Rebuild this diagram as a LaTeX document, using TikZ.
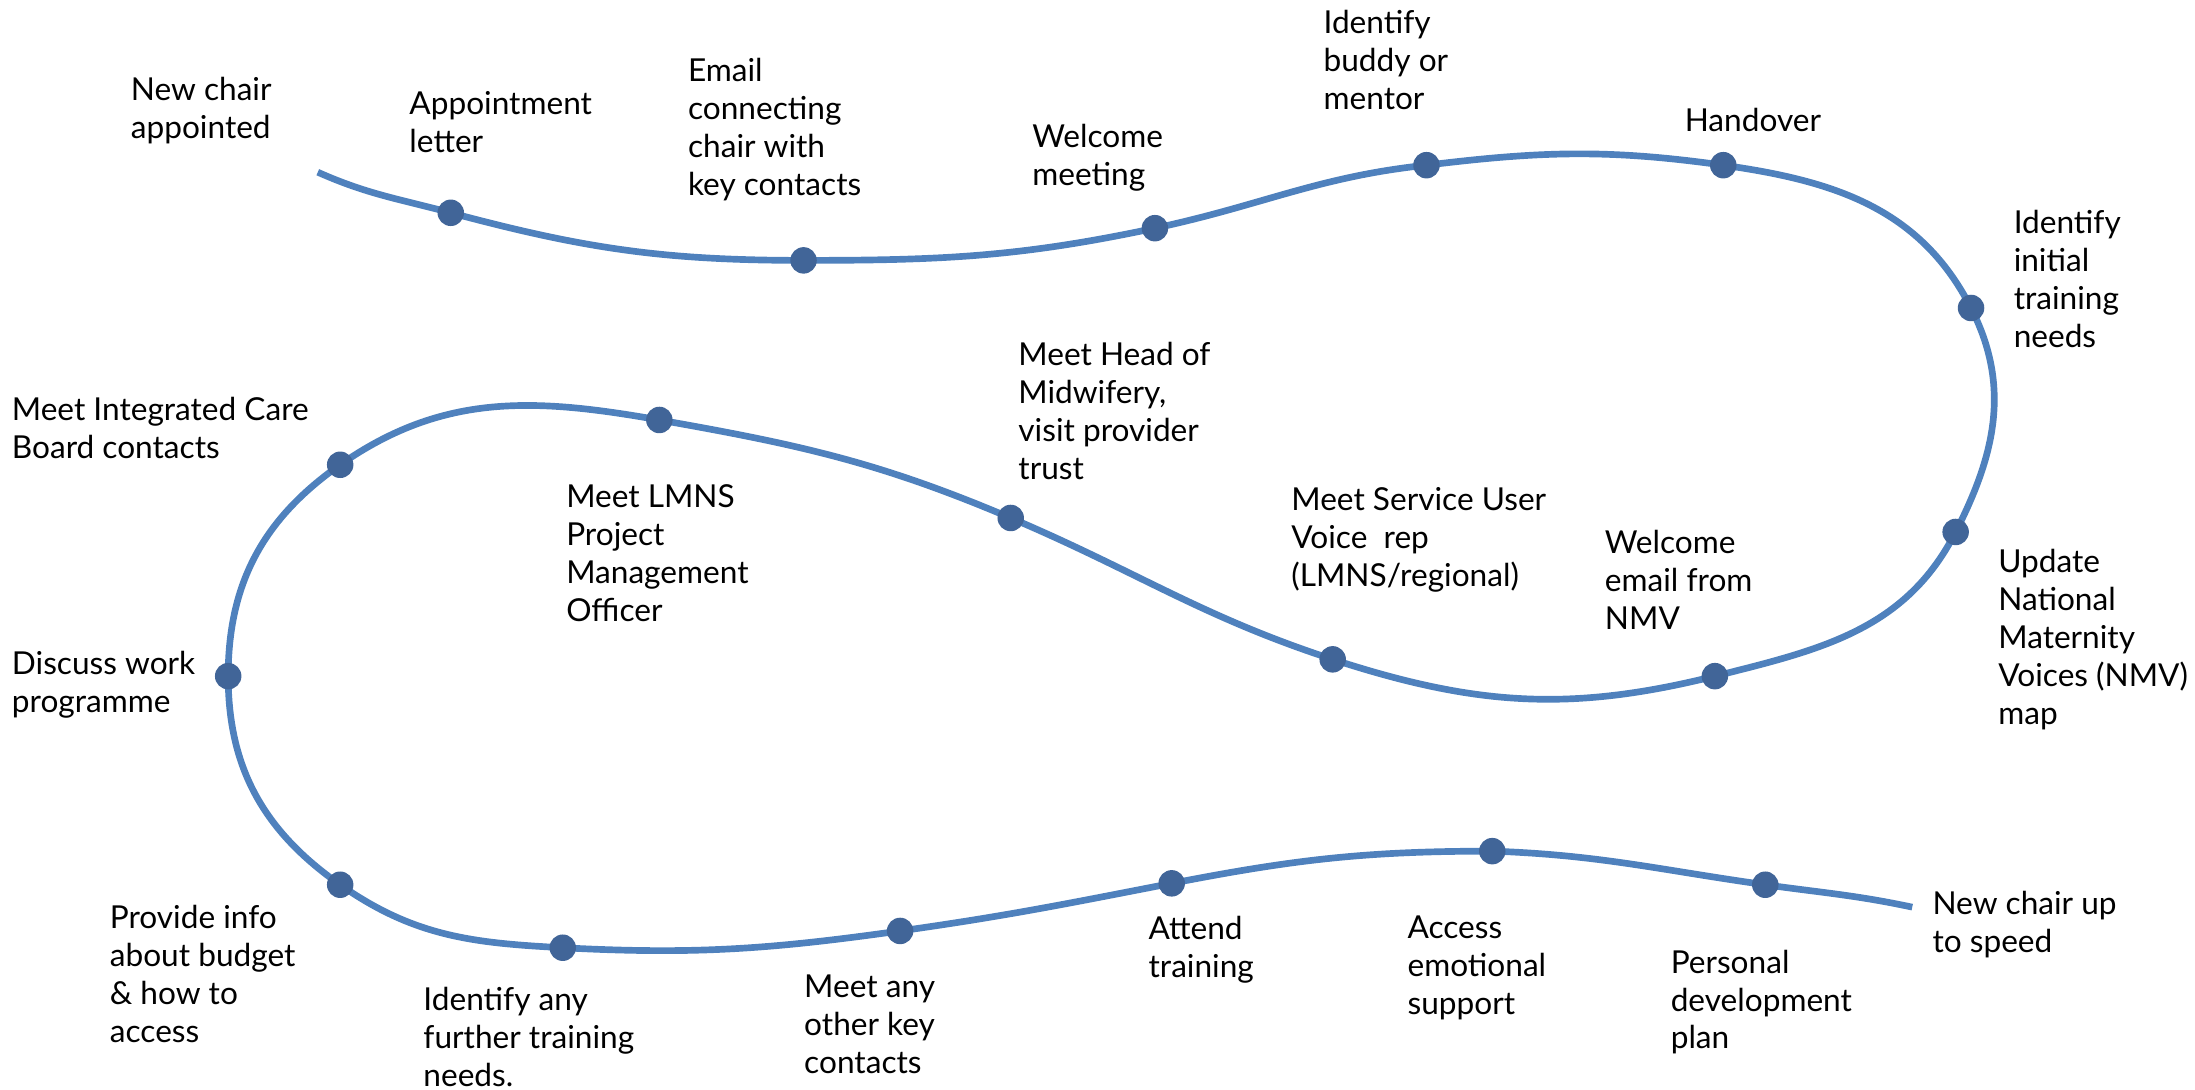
\documentclass[tikz,border=0pt]{standalone}
\usepackage{fontspec}
\setmainfont{Lato}
\usetikzlibrary{backgrounds}
\definecolor{trailclr}{RGB}{79,129,189}
\definecolor{dotclr}{RGB}{65,101,152}
\definecolor{txtclr}{RGB}{0,0,0}
\tikzset{
  mstone/.style={circle,fill=dotclr,minimum size=0.265cm,inner sep=0pt},
  trail/.style={draw=trailclr,line width=1.9pt},
  lbl/.style={anchor=north west,inner sep=0pt,align=left,
    font=\fontsize{9}{10.8}\selectfont,text=txtclr},
}
\begin{document}
\begin{tikzpicture}[x=0.014cm,y=-0.014cm]
  \useasboundingbox (0,0) rectangle (1568,778);

  % milestones along the route
  \foreach \n/\x/\y in {d1/322/152,d2/574/186,d3/825/163,d4/1019/118,
      d5/1231/118,d6/1408/220,d7/1397/380,d8/1225/483,d9/952/471,
      d10/722/370,d11/471/300,d12/243/332,d13/163/483,d14/243/632,
      d15/402/677,d16/643/665,d17/837/631,d18/1066/608,d19/1261/632}
    \node[mstone] (\n) at (\x,\y) {};
  \coordinate (start)  at (227,123);
  \coordinate (finish) at (1366,648);

  % the route itself, piece by piece
  \begin{scope}[on background layer]
    \foreach \a/\b/\o/\i in {start/d1/-24/165, d1/d2/-15/180, d2/d3/0/192,
        d3/d4/12/186, d4/d5/7/172, d5/d6/-8/117, d6/d7/-63/63,
        d7/d8/243/14, d8/d9/194/-18, d9/d10/162/-23, d10/d11/157/-10,
        d11/d12/170/35, d12/d13/215/90, d13/d14/270/145, d14/d15/-35/177,
        d15/d16/-3/188, d16/d17/8/191, d17/d18/11/180, d18/d19/-2/172,
        d19/finish/-8/168}
      \draw[trail] (\a.center) to[out=\o,in=\i] (\b.center);
  \end{scope}

  % labels
  \node[lbl] (tstart)  at (93,55)    {New chair\\appointed};
  \node[lbl] (tletter) at (292,65)   {Appointment\\letter};
  \node[lbl] (temail)  at (491,41)   {Email\\connecting\\chair with\\key contacts};
  \node[lbl] (twelc)   at (737,88)   {Welcome\\meeting};
  \node[lbl] (tbuddy)  at (945,7)    {Identify\\buddy or\\mentor};
  \node[lbl] (thand)   at (1203,77)  {Handover};
  \node[lbl] (tinit)   at (1438,150) {Identify\\initial\\training\\needs};
  \node[lbl] (tmap)    at (1427,392) {Update\\National\\Maternity\\Voices (NMV)\\map};
  \node[lbl] (tnmv)    at (1146,378) {Welcome\\email from\\NMV};
  \node[lbl] (tsuv)    at (922,348)  {Meet Service User\\Voice\ \ rep\\(LMNS/regional)};
  \node[lbl] (thom)    at (727,244)  {Meet Head of\\Midwifery,\\visit provider\\trust};
  \node[lbl] (tlmns)   at (404,346)  {Meet LMNS\\Project\\Management\\Officer};
  \node[lbl] (ticb)    at (8,283)    {Meet Integrated Care\\Board contacts};
  \node[lbl] (twork)   at (8,465)    {Discuss work\\programme};
  \node[lbl] (tbudget) at (78,646)   {Provide info\\about budget\\\& how to\\access};
  \node[lbl] (tfurth)  at (302,705)  {Identify any\\further training\\needs.};
  \node[lbl] (tother)  at (574,696)  {Meet any\\other key\\contacts};
  \node[lbl] (tattend) at (820,654)  {Attend\\training};
  \node[lbl] (tsupp)   at (1005,654) {Access\\emotional\\support};
  \node[lbl] (tpdp)    at (1193,678) {Personal\\development\\plan};
  \node[lbl] (tend)    at (1380,636) {New chair up\\to speed};
\end{tikzpicture}
\end{document}
